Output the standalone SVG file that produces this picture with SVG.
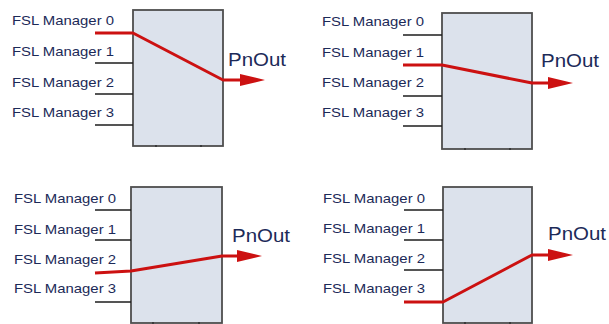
<svg xmlns="http://www.w3.org/2000/svg" width="609" height="324" viewBox="0 0 609 324">
<defs>
<style>
.box{fill:#dce2ec;stroke:#4e4e4e;stroke-width:1.8}
.lbl{font-family:"Liberation Sans","DejaVu Sans",sans-serif;font-size:13px;fill:#1c2a58}
.out{font-family:"Liberation Sans","DejaVu Sans",sans-serif;font-size:19px;fill:#1c2a58}
.in{stroke:#1e1e1e;stroke-width:1.5;fill:none}
.red{stroke:#cc1111;stroke-width:3;fill:none;stroke-linejoin:round}
.tick{fill:#3a3a3a}
</style>
<marker id="arr" viewBox="0 0 25 12" refX="15" refY="6" markerWidth="25" markerHeight="12" orient="auto" markerUnits="userSpaceOnUse">
<path d="M0,0 L25,6 L0,12 z" fill="#cc1111"/>
</marker>
</defs>
<rect width="609" height="324" fill="#ffffff"/>

<g id="panel1">
<rect class="box" x="133" y="10" width="90" height="136"/>
<rect class="tick" x="155" y="145" width="2" height="2"/>
<rect class="tick" x="200" y="145" width="2" height="2"/>
<text class="lbl" x="12" y="25" textLength="102" lengthAdjust="spacingAndGlyphs">FSL Manager 0</text>
<text class="lbl" x="12" y="56" textLength="102" lengthAdjust="spacingAndGlyphs">FSL Manager 1</text>
<text class="lbl" x="12" y="87" textLength="102" lengthAdjust="spacingAndGlyphs">FSL Manager 2</text>
<text class="lbl" x="12" y="117" textLength="102" lengthAdjust="spacingAndGlyphs">FSL Manager 3</text>
<text class="out" x="228" y="66" textLength="58" lengthAdjust="spacingAndGlyphs">PnOut</text>
</g>

<g id="panel2">
<rect class="box" x="442" y="13" width="90" height="136"/>
<rect class="tick" x="464" y="148" width="2" height="2"/>
<rect class="tick" x="509" y="148" width="2" height="2"/>
<text class="lbl" x="322" y="26" textLength="102" lengthAdjust="spacingAndGlyphs">FSL Manager 0</text>
<text class="lbl" x="322" y="57" textLength="102" lengthAdjust="spacingAndGlyphs">FSL Manager 1</text>
<text class="lbl" x="322" y="87" textLength="102" lengthAdjust="spacingAndGlyphs">FSL Manager 2</text>
<text class="lbl" x="322" y="117" textLength="102" lengthAdjust="spacingAndGlyphs">FSL Manager 3</text>
<text class="out" x="541" y="67" textLength="58" lengthAdjust="spacingAndGlyphs">PnOut</text>
</g>

<g id="panel3">
<rect class="box" x="131" y="187" width="91" height="136"/>
<rect class="tick" x="152" y="322" width="2" height="2"/>
<rect class="tick" x="198" y="322" width="2" height="2"/>
<text class="lbl" x="14" y="203" textLength="102" lengthAdjust="spacingAndGlyphs">FSL Manager 0</text>
<text class="lbl" x="14" y="234" textLength="102" lengthAdjust="spacingAndGlyphs">FSL Manager 1</text>
<text class="lbl" x="14" y="264" textLength="102" lengthAdjust="spacingAndGlyphs">FSL Manager 2</text>
<text class="lbl" x="14" y="293" textLength="102" lengthAdjust="spacingAndGlyphs">FSL Manager 3</text>
<text class="out" x="232" y="242" textLength="58" lengthAdjust="spacingAndGlyphs">PnOut</text>
</g>

<g id="panel4">
<rect class="box" x="443" y="187" width="89" height="136"/>
<rect class="tick" x="464" y="322" width="2" height="2"/>
<rect class="tick" x="509" y="322" width="2" height="2"/>
<text class="lbl" x="323" y="203" textLength="102" lengthAdjust="spacingAndGlyphs">FSL Manager 0</text>
<text class="lbl" x="323" y="233" textLength="102" lengthAdjust="spacingAndGlyphs">FSL Manager 1</text>
<text class="lbl" x="323" y="263" textLength="102" lengthAdjust="spacingAndGlyphs">FSL Manager 2</text>
<text class="lbl" x="323" y="293" textLength="102" lengthAdjust="spacingAndGlyphs">FSL Manager 3</text>
<text class="out" x="548" y="240" textLength="58" lengthAdjust="spacingAndGlyphs">PnOut</text>
</g>

<g id="connectors">
<path class="in" d="M95,63H133M95,94H133M95,125H133"/>
<path class="red" d="M95,33H133L223,80H255" marker-end="url(#arr)"/>
<path class="in" d="M403,35H442M403,96H442M403,126H442"/>
<path class="red" d="M403,65H442L532,83H563" marker-end="url(#arr)"/>
<path class="in" d="M95,210H131M95,240H131M95,302H131"/>
<path class="red" d="M95,273L131,271L222,256H252" marker-end="url(#arr)"/>
<path class="in" d="M404,210H443M404,240H443M404,270H443"/>
<path class="red" d="M404,302H443L532,255H563" marker-end="url(#arr)"/>
</g>
</svg>
